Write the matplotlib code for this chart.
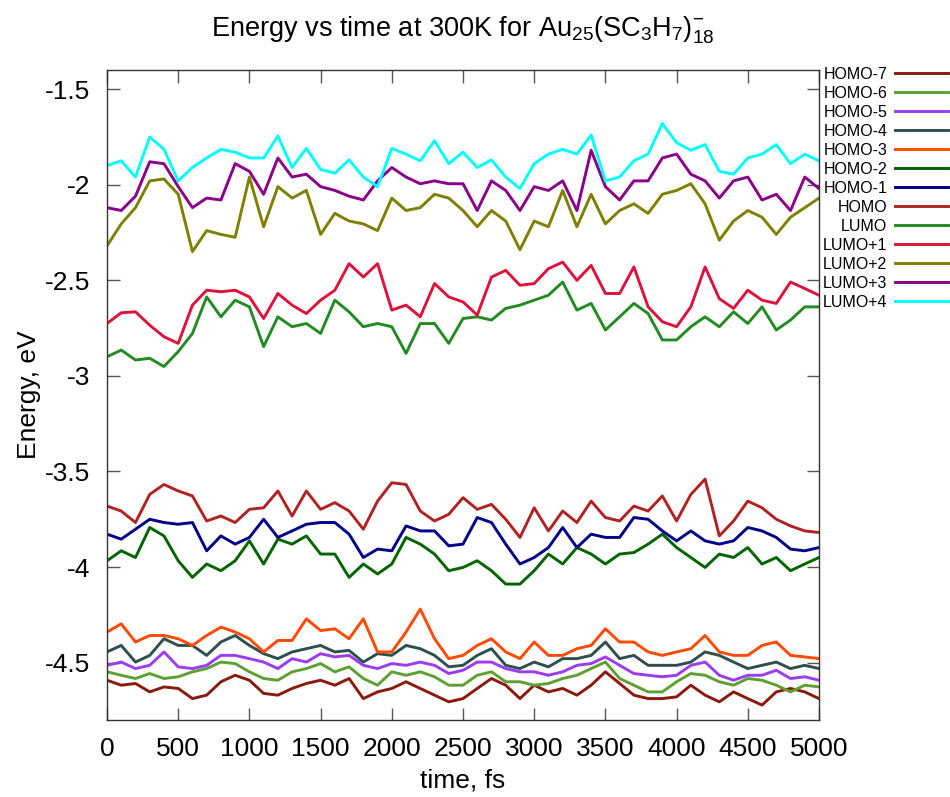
import numpy as np
import matplotlib
matplotlib.use("Agg")
from matplotlib import pyplot as plt

plt.rcParams['font.family'] = ['Liberation Sans', 'DejaVu Sans']
plt.rcParams['mathtext.fontset'] = 'custom'
plt.rcParams['mathtext.rm'] = 'Liberation Sans'
plt.rcParams['mathtext.it'] = 'Liberation Sans'

time_fs = np.arange(0, 5001, 100)

homo_7 = [-4.592, -4.618, -4.609, -4.653, -4.627, -4.635, -4.688, -4.67, -4.6, -4.566, -4.592, -4.661, -4.67,
          -4.635, -4.609, -4.592, -4.618, -4.583, -4.688, -4.653, -4.635, -4.6, -4.635, -4.67, -4.705,
          -4.688, -4.635, -4.583, -4.618, -4.688, -4.618, -4.653, -4.635, -4.67, -4.618, -4.548, -4.609, -4.67,
          -4.688, -4.688, -4.679, -4.618, -4.67, -4.705, -4.653, -4.688, -4.722, -4.653, -4.635, -4.653, -4.688]
homo_6 = [-4.548, -4.566, -4.583, -4.557, -4.583, -4.574, -4.548, -4.531, -4.497, -4.505, -4.548, -4.583, -4.592,
          -4.548, -4.531, -4.505, -4.548, -4.522, -4.583, -4.618, -4.548, -4.566, -4.548, -4.574, -4.618,
          -4.618, -4.566, -4.548, -4.6, -4.6, -4.618, -4.609, -4.583, -4.566, -4.531, -4.497, -4.583, -4.618,
          -4.653, -4.653, -4.6, -4.557, -4.566, -4.6, -4.618, -4.583, -4.592, -4.618, -4.653, -4.618, -4.627]
homo_5 = [-4.514, -4.497, -4.531, -4.514, -4.444, -4.522, -4.531, -4.514, -4.462, -4.462, -4.479, -4.497, -4.531,
          -4.479, -4.497, -4.453, -4.47, -4.462, -4.514, -4.531, -4.505, -4.514, -4.497, -4.514, -4.557,
          -4.54, -4.497, -4.497, -4.531, -4.548, -4.548, -4.566, -4.548, -4.514, -4.505, -4.47, -4.514, -4.557,
          -4.566, -4.574, -4.566, -4.514, -4.497, -4.566, -4.592, -4.566, -4.566, -4.54, -4.583, -4.574, -4.592]
homo_4 = [-4.444, -4.41, -4.497, -4.462, -4.375, -4.41, -4.41, -4.462, -4.392, -4.358, -4.41, -4.453, -4.479,
          -4.444, -4.427, -4.41, -4.444, -4.436, -4.497, -4.453, -4.462, -4.41, -4.427, -4.462, -4.522,
          -4.514, -4.462, -4.427, -4.514, -4.531, -4.497, -4.522, -4.479, -4.479, -4.462, -4.392, -4.479, -4.462,
          -4.514, -4.514, -4.514, -4.497, -4.444, -4.462, -4.497, -4.531, -4.514, -4.497, -4.531, -4.514, -4.531]
homo_3 = [-4.34, -4.297, -4.392, -4.358, -4.358, -4.375, -4.41, -4.358, -4.314, -4.34, -4.375, -4.444, -4.384,
          -4.384, -4.271, -4.332, -4.323, -4.375, -4.271, -4.444, -4.444, -4.34, -4.22, -4.375, -4.479,
          -4.462, -4.41, -4.375, -4.444, -4.479, -4.392, -4.462, -4.462, -4.427, -4.41, -4.323, -4.392, -4.392,
          -4.444, -4.462, -4.444, -4.427, -4.358, -4.444, -4.462, -4.462, -4.41, -4.392, -4.462, -4.47, -4.479]
homo_2 = [-3.967, -3.915, -3.95, -3.793, -3.837, -3.967, -4.054, -3.984, -4.019, -3.967, -3.863, -3.984, -3.854,
          -3.88, -3.837, -3.932, -3.932, -4.054, -3.984, -4.036, -3.984, -3.845, -3.88, -3.932, -4.019,
          -4.002, -3.967, -4.019, -4.089, -4.089, -4.019, -3.932, -3.984, -3.898, -3.932, -3.984, -3.932, -3.924,
          -3.88, -3.828, -3.898, -3.95, -4.002, -3.932, -3.95, -3.898, -3.984, -3.95, -4.019, -3.984, -3.95]
homo_1 = [-3.828, -3.854, -3.802, -3.75, -3.767, -3.776, -3.767, -3.915, -3.837, -3.88, -3.845, -3.75, -3.845,
          -3.811, -3.776, -3.767, -3.767, -3.828, -3.95, -3.906, -3.915, -3.785, -3.811, -3.811, -3.889,
          -3.88, -3.741, -3.767, -3.88, -3.984, -3.95, -3.898, -3.793, -3.898, -3.828, -3.845, -3.845, -3.741,
          -3.75, -3.811, -3.863, -3.811, -3.863, -3.88, -3.863, -3.793, -3.811, -3.845, -3.906, -3.915, -3.898]
homo = [-3.681, -3.707, -3.767, -3.62, -3.568, -3.602, -3.628, -3.759, -3.733, -3.767, -3.698, -3.69, -3.602,
        -3.733, -3.602, -3.698, -3.663, -3.707, -3.802, -3.655, -3.559, -3.568, -3.707, -3.759, -3.724,
        -3.637, -3.698, -3.672, -3.75, -3.845, -3.69, -3.811, -3.707, -3.767, -3.655, -3.741, -3.759, -3.681,
        -3.707, -3.628, -3.759, -3.62, -3.54, -3.837, -3.759, -3.655, -3.69, -3.75, -3.785, -3.811, -3.819]
lumo = [-2.90, -2.865, -2.917, -2.908, -2.951, -2.873, -2.778, -2.587, -2.691, -2.604, -2.639, -2.847, -2.691,
        -2.743, -2.726, -2.778, -2.604, -2.665, -2.743, -2.726, -2.743, -2.882, -2.726, -2.726, -2.83,
        -2.70, -2.691, -2.708, -2.647, -2.63, -2.604, -2.578, -2.509, -2.656, -2.621, -2.76, -2.691, -2.621,
        -2.674, -2.812, -2.812, -2.743, -2.691, -2.743, -2.665, -2.726, -2.639, -2.76, -2.708, -2.639, -2.639]
lumo_1 = [-2.726, -2.67, -2.665, -2.735, -2.795, -2.83, -2.63, -2.552, -2.56, -2.552, -2.587, -2.70, -2.569,
          -2.63, -2.674, -2.604, -2.552, -2.413, -2.483, -2.413, -2.656, -2.63, -2.691, -2.517, -2.587,
          -2.613, -2.682, -2.483, -2.448, -2.526, -2.517, -2.439, -2.405, -2.50, -2.422, -2.569, -2.569, -2.43,
          -2.639, -2.717, -2.743, -2.639, -2.43, -2.596, -2.647, -2.552, -2.604, -2.621, -2.509, -2.543, -2.578]
lumo_2 = [-2.32, -2.205, -2.12, -1.98, -1.97, -2.05, -2.35, -2.24, -2.26, -2.275, -1.96, -2.22, -2.01,
          -2.07, -2.03, -2.26, -2.15, -2.19, -2.205, -2.24, -2.07, -2.135, -2.12, -2.05, -2.07,
          -2.135, -2.22, -2.135, -2.19, -2.34, -2.19, -2.22, -2.03, -2.22, -2.05, -2.205, -2.135, -2.10,
          -2.15, -2.05, -2.03, -1.995, -2.10, -2.29, -2.19, -2.135, -2.17, -2.26, -2.17, -2.12, -2.07]
lumo_3 = [-2.12, -2.135, -2.06, -1.88, -1.89, -2.01, -2.12, -2.07, -2.08, -1.89, -1.93, -2.05, -1.86,
          -1.96, -1.945, -2.01, -2.03, -2.06, -2.08, -1.98, -1.91, -1.96, -1.995, -1.98, -1.995,
          -1.995, -2.135, -1.98, -2.03, -2.135, -2.01, -2.03, -1.98, -2.135, -1.82, -2.01, -2.08, -1.98,
          -1.98, -1.86, -1.84, -1.945, -1.98, -2.07, -1.98, -1.96, -2.08, -2.05, -2.135, -1.96, -2.02]
lumo_4 = [-1.90, -1.875, -1.96, -1.75, -1.815, -1.98, -1.91, -1.86, -1.815, -1.83, -1.86, -1.86, -1.745,
          -1.91, -1.81, -1.92, -1.94, -1.87, -1.96, -2.01, -1.81, -1.84, -1.875, -1.77, -1.89,
          -1.83, -1.91, -1.87, -1.96, -2.02, -1.89, -1.84, -1.815, -1.84, -1.74, -1.98, -1.96, -1.875,
          -1.84, -1.68, -1.78, -1.82, -1.79, -1.93, -1.945, -1.86, -1.84, -1.79, -1.89, -1.84, -1.875]

labels = ["HOMO-7", "HOMO-6", "HOMO-5", "HOMO-4", "HOMO-3", "HOMO-2", "HOMO-1",
          "HOMO", "LUMO", "LUMO+1", "LUMO+2", "LUMO+3", "LUMO+4"]
series = [homo_7, homo_6, homo_5, homo_4, homo_3, homo_2, homo_1,
          homo, lumo, lumo_1, lumo_2, lumo_3, lumo_4]
colors = ["#8b1a0e", "#5fa032", "#9b3cf0", "#2f4f4f", "#ff4a00", "#006400", "#00008b",
          "#b22222", "#228b22", "#dc143c", "#808000", "#8b008b", "#00ffff"]

fig = plt.figure(figsize=(9.5, 7.97), dpi=100)
ax = fig.add_axes([107/950, 77/797, 712/950, 650/797])

for lab, ys, c in zip(labels, series, colors):
    ax.plot(time_fs, ys, color=c, lw=2.1, label=lab)

ax.set_xlim(0, 5000)
ax.set_ylim(-4.8, -1.4)
ax.set_xticks(np.arange(0, 5001, 500))
ax.set_yticks([-1.5, -2, -2.5, -3, -3.5, -4, -4.5])
ax.set_yticklabels(["-1.5", "-2", "-2.5", "-3", "-3.5", "-4", "-4.5"])
ax.tick_params(direction='in', length=9, width=1, color='#555555',
               top=True, right=True, labelsize=19)
ax.tick_params(axis='x', pad=12)
ax.tick_params(axis='y', pad=12)
for sp in ax.spines.values():
    sp.set_linewidth(1.0)
    sp.set_color('#333333')

ax.set_xlabel("time, fs", fontsize=19)
ax.set_ylabel("Energy, eV", fontsize=19)
ax.xaxis.set_label_coords(0.5, -0.075)
ax.yaxis.set_label_coords(-0.092, 0.5)

fig.text(463/950, 1 - 30/797, r"Energy vs time at 300K for Au$_{25}$(SC$_3$H$_7$)$_{18}^{-}$",
         ha='center', va='center', fontsize=19.5)

fig.legend(loc='upper right', bbox_to_anchor=(948/950, 1 - 67/797), markerfirst=False,
           frameon=False, fontsize=11.5, labelspacing=0.25, handlelength=3.3,
           handletextpad=0.5, borderpad=0, borderaxespad=0)

fig.savefig("out.png", dpi=100)
